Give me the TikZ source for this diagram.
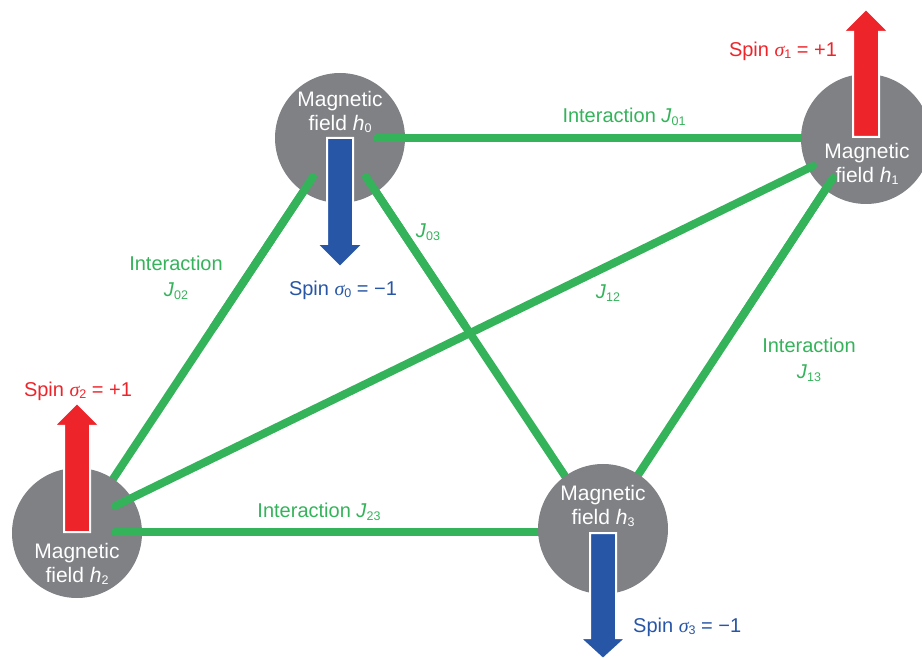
\documentclass[tikz,border=0pt]{standalone}
\usepackage{fontspec}
\setmainfont{Liberation Sans}
\newfontfamily\grk{Liberation Serif}
\usetikzlibrary{calc}
\definecolor{cgray}{RGB}{128,129,133}
\definecolor{cgreen}{RGB}{52,179,90}
\definecolor{cred}{RGB}{237,37,43}
\definecolor{cblue}{RGB}{40,86,166}
\newcommand\sbx[1]{\raisebox{-0.25ex}{\fontsize{12.5}{12.5}\selectfont #1}}
\newcommand\sig[1]{{\grk\itshape σ}\sbx{#1}}
\begin{document}
\begin{tikzpicture}[x=1pt,y=-1pt,
  link/.style={draw=cgreen, line width=8pt, line cap=round},
  field/.style={circle, fill=cgray, minimum size=130pt, inner sep=0pt},
  ftext/.style={text=white, font=\fontsize{21}{24}\selectfont, align=center, inner sep=0pt},
  lab/.style={text=cgreen, font=\fontsize{20}{26}\selectfont, align=center, inner sep=0pt},
  spinlab/.style={font=\fontsize{20}{24}\selectfont, inner sep=0pt},
  redarrow/.style={fill=cred, draw=white, line width=2pt},
  bluearrow/.style={fill=cblue, draw=white, line width=2pt}]
\useasboundingbox (0,0) rectangle (922,660);

% node positions (invisible first to get names)
\path (340,138) coordinate (p0) (866,139) coordinate (p1) (77,533) coordinate (p2) (603,529) coordinate (p3);

% connector endpoints
\coordinate (a01) at ($(p0)+(37,0)$);   \coordinate (b01) at ($(p1)+(-66,-1)$);
\coordinate (a02) at ($(p0)+(-27,39)$); \coordinate (b02) at ($(p2)+(36,-54)$);
\coordinate (a03) at ($(p0)+(26,39)$);  \coordinate (b03) at ($(p3)+(-40,-56)$);
\coordinate (a12) at ($(p1)+(-53,27)$); \coordinate (b12) at ($(p2)+(38,-27)$);
\coordinate (a13) at ($(p1)+(-33,39)$); \coordinate (b13) at ($(p3)+(37,-57)$);
\coordinate (a23) at ($(p2)+(38,-1)$);  \coordinate (b23) at ($(p3)+(-66,3)$);

% lines under circles (ends extended beneath the circles)
\draw[link] (a01) -- ($(a01)!1.06!(b01)$);
\draw[link] (a02) -- ($(a02)!1.08!(b02)$);
\draw[link] (a03) -- ($(a03)!1.08!(b03)$);
\draw[link] (a13) -- ($(a13)!1.1!(b13)$);
\draw[link] (a23) -- ($(a23)!1.06!(b23)$);

% circles
\node[field] (h0) at (p0) {};
\node[field] (h1) at (p1) {};
\node[field] (h2) at (p2) {};
\node[field] (h3) at (p3) {};

% line ends visible over circles
\draw[link] (a01) -- ($(a01)!0.5!(b01)$);
\draw[link] (a02) -- ($(a02)!0.5!(b02)$);
\draw[link] (a03) -- ($(a03)!0.5!(b03)$);
\draw[link] (a12) -- (b12);
\draw[link] (a13) -- ($(a13)!0.5!(b13)$);
\draw[link] (a23) -- ($(a23)!0.5!(b23)$);

% circle texts
\node[ftext] (t0) at (340,112) {Magnetic\\field \textit{h}\sbx{0}};
\node[ftext] (t1) at (867,164) {Magnetic\\field \textit{h}\sbx{1}};
\node[ftext] (t2) at (77,564) {Magnetic\\field \textit{h}\sbx{2}};
\node[ftext] (t3) at (603,506) {Magnetic\\field \textit{h}\sbx{3}};

% spin arrows
\fill[bluearrow] (327,138) -- (327,244) -- (317,244) -- (340,267) -- (363,244) -- (353,244) -- (353,138) -- cycle;
\fill[redarrow] (853,137) -- (853,32) -- (843,32) -- (866,9) -- (889,32) -- (879,32) -- (879,137) -- cycle;
\fill[redarrow] (64,532) -- (64,426) -- (54,426) -- (77,403) -- (100,426) -- (90,426) -- (90,532) -- cycle;
\fill[bluearrow] (590,533) -- (590,638) -- (580,638) -- (603,659) -- (626,638) -- (616,638) -- (616,533) -- cycle;

% spin labels
\node[spinlab, text=cblue] (s0) at (343,290) {Spin \sig{0} = −1};
\node[spinlab, text=cred] (s1) at (783,51) {Spin \sig{1} = +1};
\node[spinlab, text=cred] (s2) at (78,391) {Spin \sig{2} = +1};
\node[spinlab, text=cblue, anchor=west] (s3) at (633,627) {Spin \sig{3} = −1};

% interaction labels
\node[lab] (l01) at (624,117) {Interaction \textit{J}\sbx{01}};
\node[lab] (l02) at (176,278) {Interaction\\\textit{J}\sbx{02}};
\node[lab] (l03) at (428,232) {\textit{J}\sbx{03}};
\node[lab] (l12) at (608,293) {\textit{J}\sbx{12}};
\node[lab] (l13) at (809,360) {Interaction\\\textit{J}\sbx{13}};
\node[lab] (l23) at (319,512) {Interaction \textit{J}\sbx{23}};
\end{tikzpicture}
\end{document}
